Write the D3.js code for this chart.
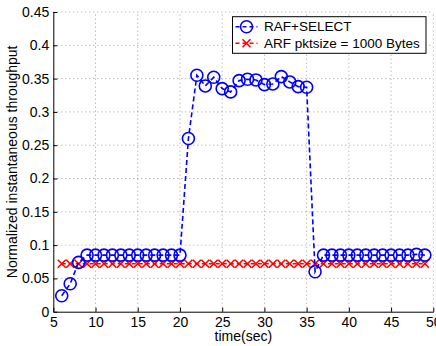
<!DOCTYPE html>
<html>
<head>
<meta charset="utf-8">
<script src="https://cdn.jsdelivr.net/npm/d3@7.9.0/dist/d3.min.js"></script>
<style>
  body { margin: 0; background: #fff; }
  svg { display: block; font-family: "Liberation Sans", Arial, Helvetica, sans-serif; }
</style>
</head>
<body>
<div id="chart"></div>
<script>
// time axis (sec) for both series
const times = d3.range(6, 50);

// RAF+SELECT throughput, one value per second 6..49
const rafValues = [
  0.024, 0.042, 0.074,
  0.085, 0.085, 0.085, 0.085, 0.085, 0.085, 0.085, 0.085, 0.085, 0.085, 0.085, 0.085,
  0.26, 0.355, 0.339, 0.352, 0.335, 0.33, 0.347, 0.349, 0.348, 0.341, 0.342, 0.353, 0.345, 0.338, 0.337,
  0.06,
  0.085, 0.085, 0.085, 0.085, 0.085, 0.085, 0.085, 0.085, 0.085, 0.085, 0.085, 0.086, 0.085
];

// ARF pktsize = 1000 Bytes, flat
const arfValues = times.map(() => 0.072);

const xTicks = d3.range(5, 51, 5);
const yTicks = [0, 0.05, 0.1, 0.15, 0.2, 0.25, 0.3, 0.35, 0.4, 0.45];

const seriesNames = ['RAF+SELECT', 'ARF pktsize = 1000 Bytes'];

const width = 436, height = 346;
const margin = { top: 12, right: 2.7, bottom: 34.3, left: 53.3 };
const fontSize = 14;

const svg = d3.select('#chart').append('svg')
  .attr('width', width)
  .attr('height', height);

const xScale = d3.scaleLinear().domain([5, 50]).range([margin.left, width - margin.right]);
const yScale = d3.scaleLinear().domain([0, 0.45]).range([height - margin.bottom, margin.top]);

// dotted grid
const grid = svg.append('g').attr('class', 'grid');
grid.selectAll('line.gx').data(xTicks.slice(1)).join('line')
  .attr('x1', d => xScale(d)).attr('x2', d => xScale(d))
  .attr('y1', yScale(0)).attr('y2', yScale(0.45))
  .attr('stroke', '#888').attr('stroke-width', 0.8).attr('stroke-dasharray', '1,3');
grid.selectAll('line.gy').data(yTicks.slice(1)).join('line')
  .attr('x1', xScale(5)).attr('x2', xScale(50))
  .attr('y1', d => yScale(d)).attr('y2', d => yScale(d))
  .attr('stroke', '#888').attr('stroke-width', 0.8).attr('stroke-dasharray', '1,3');

// axes, ticks inside
const xAxis = svg.append('g')
  .attr('transform', `translate(0,${yScale(0)})`)
  .call(d3.axisBottom(xScale).tickValues(xTicks).tickSizeInner(-4).tickSizeOuter(0).tickPadding(5).tickFormat(d3.format('d')));
const yAxis = svg.append('g')
  .attr('transform', `translate(${xScale(5)},0)`)
  .call(d3.axisLeft(yScale).tickValues(yTicks).tickSizeInner(-4).tickSizeOuter(0).tickPadding(4).tickFormat(d => d === 0 ? '0' : String(+d.toFixed(2))));

[xAxis, yAxis].forEach(ax => {
  ax.select('.domain').attr('stroke', '#000').attr('stroke-width', 1);
  ax.selectAll('.tick line').attr('stroke', '#000');
  ax.selectAll('text').attr('font-size', fontSize).attr('fill', '#000')
    .attr('font-family', '"Liberation Sans", Arial, sans-serif');
});

// series data
const rafData = times.map((t, i) => ({ x: t, y: rafValues[i] }));
const arfData = times.map((t, i) => ({ x: t, y: arfValues[i] }));

const line = d3.line().x(d => xScale(d.x)).y(d => yScale(d.y));

// ARF line + x markers
svg.append('path').datum(arfData)
  .attr('d', line).attr('fill', 'none')
  .attr('stroke', '#f00').attr('stroke-width', 1.6).attr('stroke-dasharray', '4,3');
const crossSize = 4;
svg.append('g').selectAll('path').data(arfData).join('path')
  .attr('d', d => {
    const cx = xScale(d.x), cy = yScale(d.y);
    return `M${cx - crossSize},${cy - crossSize}L${cx + crossSize},${cy + crossSize}M${cx - crossSize},${cy + crossSize}L${cx + crossSize},${cy - crossSize}`;
  })
  .attr('stroke', '#f00').attr('stroke-width', 1.6).attr('fill', 'none');

// RAF line + circle markers
svg.append('path').datum(rafData)
  .attr('d', line).attr('fill', 'none')
  .attr('stroke', '#00f').attr('stroke-width', 1.6).attr('stroke-dasharray', '5,3');
svg.append('g').selectAll('circle').data(rafData).join('circle')
  .attr('cx', d => xScale(d.x)).attr('cy', d => yScale(d.y))
  .attr('r', 6)
  .attr('fill', 'none').attr('stroke', '#00f').attr('stroke-width', 1.6);

// axis labels
svg.append('text')
  .attr('x', (xScale(5) + xScale(50)) / 2)
  .attr('y', 341)
  .attr('text-anchor', 'middle')
  .attr('font-size', fontSize)
  .text('time(sec)');
svg.append('text')
  .attr('transform', `translate(17,${(yScale(0) + yScale(0.45)) / 2}) rotate(-90)`)
  .attr('text-anchor', 'middle')
  .attr('font-size', fontSize)
  .text('Normalized instantaneous throughput');

// legend
const legend = svg.append('g').attr('transform', 'translate(232.5,16.7)');
legend.append('rect')
  .attr('width', 193.5).attr('height', 36.6)
  .attr('fill', '#fff').attr('stroke', '#000').attr('stroke-width', 1);
const rows = legend.selectAll('g.row').data(seriesNames).join('g')
  .attr('transform', (d, i) => `translate(0,${10 + i * 16.6})`);
rows.append('line')
  .attr('x1', 3).attr('x2', 25)
  .attr('stroke', (d, i) => i === 0 ? '#00f' : '#f00')
  .attr('stroke-width', 1.6).attr('stroke-dasharray', '4,3');
rows.filter((d, i) => i === 0).append('circle')
  .attr('cx', 14).attr('r', 6)
  .attr('fill', 'none').attr('stroke', '#00f').attr('stroke-width', 1.6);
rows.filter((d, i) => i === 1).append('path')
  .attr('d', `M${14 - crossSize},${-crossSize}L${14 + crossSize},${crossSize}M${14 - crossSize},${crossSize}L${14 + crossSize},${-crossSize}`)
  .attr('stroke', '#f00').attr('stroke-width', 1.6).attr('fill', 'none');
rows.append('text')
  .attr('x', 31.5).attr('dy', '0.35em')
  .attr('font-size', 13.5)
  .text(d => d);
</script>
</body>
</html>
